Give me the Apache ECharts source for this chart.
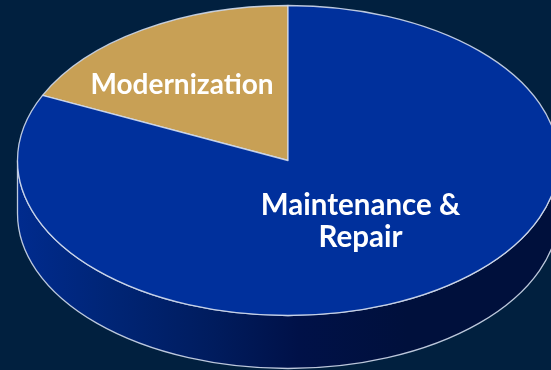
<!DOCTYPE html>
<html>
<head>
<meta charset="utf-8">
<style>html,body{margin:0;padding:0;background:#01203f}#c{width:551px;height:370px}</style>
<script src="https://cdn.jsdelivr.net/npm/echarts@6/dist/echarts.min.js"></script>
</head>
<body>
<div id="c"></div>
<script>
const categories = ['Modernization', 'Maintenance & Repair'];
const values = [18.1, 81.9];
const labelLines = [['Modernization'], ['Maintenance &', 'Repair']];
const sliceColors = ['#c8a055', '#00309c'];

const cx = 288, cy = 160.5, rx = 270.5, ry = 155, depth = 53;
const edge = 'rgba(208,218,236,0.9)';
const total = values.reduce((a, b) => a + b, 0);

function pt(angle) { // clockwise from top, tilted disc
  return [cx + rx * Math.sin(angle), cy - ry * Math.cos(angle)];
}

// slices go anticlockwise from 12 o'clock, as in the picture
function sliceRange(i) {
  let before = 0;
  for (let k = 0; k < i; k++) before += values[k];
  return [-(before + values[i]) / total * Math.PI * 2, -before / total * Math.PI * 2];
}
function slicePath(i) {
  const [a0, a1] = sliceRange(i);
  const p0 = pt(a0), p1 = pt(a1);
  const large = (a1 - a0) > Math.PI ? 1 : 0;
  return `M${cx} ${cy}L${p0[0]} ${p0[1]}A${rx} ${ry} 0 ${large} 1 ${p1[0]} ${p1[1]}Z`;
}
const wallPath = `M${cx - rx} ${cy}L${cx - rx} ${cy + depth}A${rx} ${ry} 0 0 0 ${cx + rx} ${cy + depth}L${cx + rx} ${cy}A${rx} ${ry} 0 0 1 ${cx - rx} ${cy}Z`;
const wallFill = new echarts.graphic.LinearGradient(0, 0, 1, 0, [
  { offset: 0, color: '#002b8e' },
  { offset: 0.17, color: '#002576' },
  { offset: 0.36, color: '#001c5e' },
  { offset: 0.52, color: '#001148' },
  { offset: 0.72, color: '#00103c' },
  { offset: 1, color: '#00103c' }
]);
const labelCenters = [[182, 84.5], [360.5, 221.5]];
const labelSizes = [28, 29.5];
const lineGap = 32;

const chart = echarts.init(document.getElementById('c'), null, { renderer: 'canvas' });
chart.setOption({
  backgroundColor: '#01203f',
  animation: false,
  series: [{
    type: 'custom',
    coordinateSystem: 'none',
    silent: true,
    data: values.map((v, i) => ({ name: categories[i], value: v })),
    renderItem(params) {
      const i = params.dataIndex;
      const children = [];
      if (i === 0) {
        children.push({
          type: 'path',
          z2: 0,
          shape: { pathData: wallPath },
          style: { fill: wallFill, stroke: edge, lineWidth: 1.3 }
        });
      }
      children.push({
        type: 'path',
        z2: 5,
        shape: { pathData: slicePath(i) },
        style: { fill: sliceColors[i], stroke: edge, lineWidth: 1.3, lineJoin: 'round' }
      });
      const lines = labelLines[i];
      lines.forEach((t, k) => {
        children.push({
          type: 'text',
          z2: 10,
          style: {
            x: labelCenters[i][0],
            y: labelCenters[i][1] + (k - (lines.length - 1) / 2) * lineGap,
            text: t,
            fill: '#ffffff',
            align: 'center',
            verticalAlign: 'middle',
            font: 'bold ' + labelSizes[i] + 'px Lato, "Open Sans", sans-serif'
          }
        });
      });
      return { type: 'group', children };
    }
  }]
});
</script>
</body>
</html>
